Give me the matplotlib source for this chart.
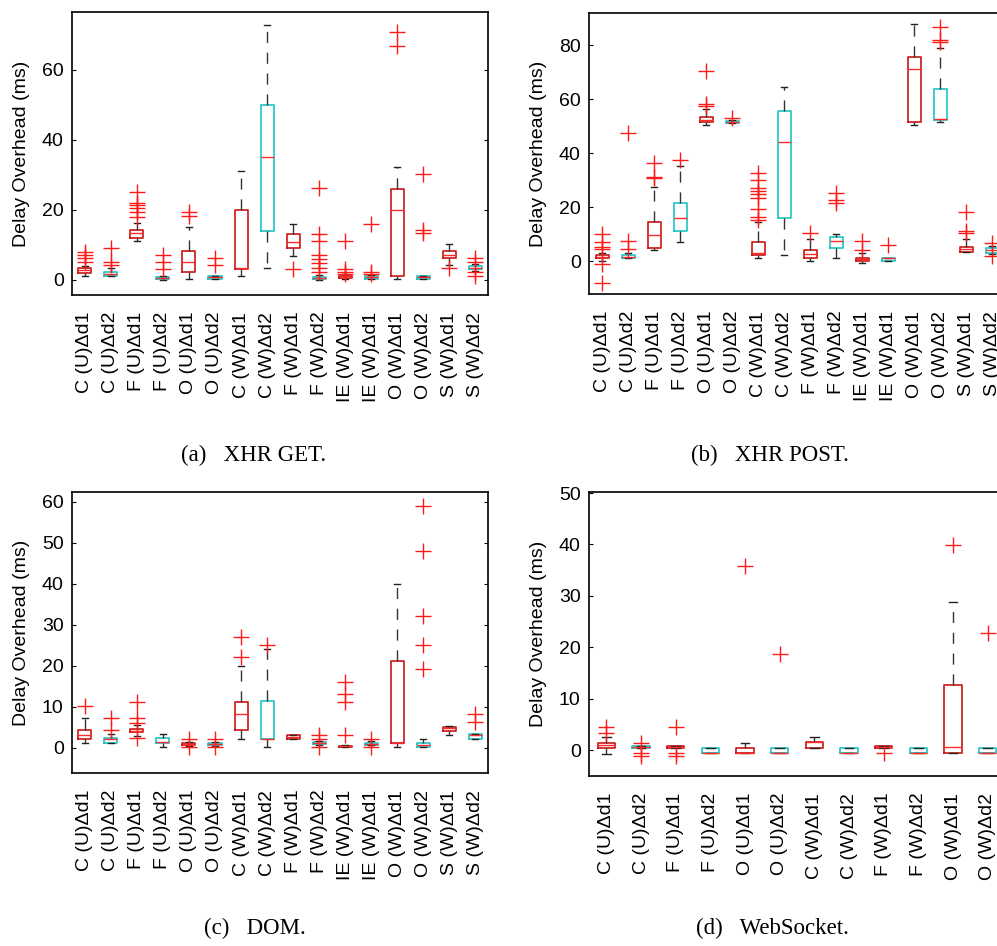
import numpy as np
import matplotlib.pyplot as plt

plt.rcParams['font.family'] = ['Liberation Sans', 'DejaVu Sans']

# 数据：每个面板的箱线图统计量 (q1, 中位数, q3, 须下端, 须上端, 离群点)
labels_a = ['C (U)Δd1', 'C (U)Δd2', 'F (U)Δd1', 'F (U)Δd2', 'O (U)Δd1', 'O (U)Δd2',
            'C (W)Δd1', 'C (W)Δd2', 'F (W)Δd1', 'F (W)Δd2', 'IE (W)Δd1', 'IE (W)Δd1',
            'O (W)Δd1', 'O (W)Δd2', 'S (W)Δd1', 'S (W)Δd2']
q1_a = [2.1, 1.0, 12.1, 0.3, 2.2, 0.2, 3.1, 14.1, 9.1, 0.2, 0.5, 0.4, 1.2, 0.3, 6.2, 3.0]
med_a = [2.9, 1.6, 13.3, 0.5, 5.2, 0.9, 3.3, 35.1, 10.7, 0.5, 0.8, 0.7, 20.1, 0.8, 7.1, 3.5]
q3_a = [3.3, 2.2, 14.2, 0.8, 8.2, 1.2, 20.1, 49.9, 13.1, 0.8, 1.1, 1.0, 26.1, 1.2, 8.2, 4.0]
lo_a = [1.2, 1.0, 11.2, 0.1, 0.3, 0.2, 1.2, 3.3, 6.9, 0.0, 0.3, 0.2, 0.3, 0.3, 4.3, 2.5]
hi_a = [4.1, 3.3, 16.2, 1.2, 15.1, 1.2, 31.0, 72.8, 16.1, 1.5, 1.6, 1.5, 32.2, 1.2, 10.2, 4.5]
fliers_a = [[5.0, 6.2, 7.1, 8.1], [4.3, 5.0, 9.2], [18.1, 19.5, 20.5, 21.4, 22.1, 25.0],
            [3.1, 5.0, 7.0], [18.4, 19.3], [4.2, 6.2], [], [], [3.1],
            [2.2, 3.3, 4.8, 5.9, 7.0, 11.2, 13.0, 26.2], [1.7, 2.4, 3.2, 11.1],
            [1.6, 2.3, 16.1], [66.9, 70.9], [13.3, 14.3, 30.2], [3.3], [1.2, 2.2, 5.0, 6.2]]

labels_b = labels_a
q1_b = [1.1, 1.1, 5.0, 11.2, 51.4, 51.3, 2.1, 16.1, 1.2, 5.0, 0.0, 0.2, 51.4, 52.4, 3.2, 3.0]
med_b = [1.7, 1.4, 9.8, 15.8, 52.2, 51.6, 3.1, 44.0, 2.7, 7.3, 0.6, 1.1, 71.1, 52.7, 4.3, 4.0]
q3_b = [2.4, 2.4, 14.3, 21.4, 53.4, 51.9, 7.2, 55.5, 4.2, 9.1, 1.2, 1.2, 75.6, 63.6, 5.2, 5.0]
lo_b = [0.2, 1.1, 4.1, 7.1, 50.6, 51.0, 1.1, 2.1, 0.2, 1.1, -0.6, 0.2, 50.6, 51.4, 3.2, 2.5]
hi_b = [3.1, 3.1, 27.3, 35.3, 56.4, 52.3, 14.4, 64.5, 8.1, 10.2, 3.0, 1.2, 87.7, 78.8, 8.2, 5.5]
fliers_b = [[-8.0, -1.0, 4.5, 5.2, 7.1, 10.2], [4.3, 7.3, 47.5], [30.7, 31.3, 36.3], [37.3],
            [57.4, 58.3, 70.4], [52.9], [15.4, 16.4, 19.3, 23.2, 24.7, 26.0, 27.0, 30.1, 32.5],
            [], [10.4], [21.4, 22.6, 25.3], [4.2, 7.3], [6.1], [], [81.0, 81.9, 86.8],
            [10.4, 11.2, 18.3], [1.9, 6.8]]

labels_c = labels_a
q1_c = [2.2, 1.3, 3.9, 1.3, 0.7, 0.7, 4.4, 2.3, 2.3, 1.0, 0.3, 0.8, 1.1, 0.2, 4.2, 2.3]
med_c = [3.2, 2.3, 4.2, 1.5, 1.0, 1.0, 8.2, 2.3, 2.7, 1.3, 0.4, 1.0, 1.1, 0.6, 4.8, 3.2]
q3_c = [4.4, 2.4, 4.6, 2.4, 1.2, 1.2, 11.2, 11.4, 3.2, 1.5, 0.5, 1.3, 21.1, 1.3, 5.2, 3.3]
lo_c = [1.1, 1.3, 3.0, 0.3, 0.5, 0.5, 2.2, 0.3, 2.3, 0.8, 0.2, 0.6, 0.2, 0.2, 3.2, 2.3]
hi_c = [7.2, 3.3, 5.5, 3.3, 1.5, 1.5, 20.1, 24.1, 3.2, 1.8, 0.6, 1.6, 40.0, 2.3, 5.4, 3.3]
fliers_c = [[10.2], [4.4, 7.3], [2.5, 6.1, 7.2, 11.2], [], [0.3, 2.1], [0.3, 2.1],
            [22.1, 27.1], [25.2], [], [0.3, 2.3, 3.1], [3.1, 11.2, 13.1, 16.0],
            [0.3, 2.1], [], [19.3, 25.2, 32.1, 48.0, 59.0], [], [6.4, 8.4]]

labels_d = ['C (U)Δd1', 'C (U)Δd2', 'F (U)Δd1', 'F (U)Δd2', 'O (U)Δd1', 'O (U)Δd2',
            'C (W)Δd1', 'C (W)Δd2', 'F (W)Δd1', 'F (W)Δd2', 'O (W)Δd1', 'O (W)Δd2']
q1_d = [0.45, 0.4, 0.5, -0.5, -0.5, -0.5, 0.5, -0.5, 0.5, -0.5, -0.5, -0.5]
med_d = [1.0, 0.6, 0.65, -0.5, -0.5, -0.5, 1.6, -0.5, 0.65, -0.5, 0.6, -0.5]
q3_d = [1.5, 0.8, 0.8, 0.5, 0.5, 0.5, 1.6, 0.5, 0.8, 0.5, 12.7, 0.5]
lo_d = [-0.8, 0.4, 0.5, -0.5, -0.5, -0.5, 0.5, -0.5, 0.5, -0.5, -0.5, -0.5]
hi_d = [2.6, 0.8, 0.8, 0.5, 1.5, 0.5, 2.6, 0.5, 0.8, 0.5, 28.8, 0.5]
fliers_d = [[3.4, 4.5], [-1.2, -0.45, 1.5], [-1.2, -0.6, 4.5], [], [35.8], [18.7],
            [], [], [-0.5], [], [39.9], [22.7]]

red = '#cc1414'
cyan = '#1ec3c3'


def draw(ax, labels, q1, med, q3, lo, hi, fliers, ylim, yticks, caption, cx, cy):
    stats = []
    for i in range(len(labels)):
        stats.append(dict(q1=q1[i], med=med[i], q3=q3[i], whislo=lo[i], whishi=hi[i],
                          fliers=fliers[i], label=labels[i]))
    pos = np.arange(1, len(labels) + 1)
    res = ax.bxp(stats, positions=pos, widths=0.5, capwidths=0.25,
                 boxprops=dict(linewidth=1.2),
                 whiskerprops=dict(color='#333333', linewidth=1.0, linestyle=(0, (8, 7))),
                 capprops=dict(color='#222222', linewidth=1.0),
                 medianprops=dict(color='#ff2a2a', linewidth=1.0),
                 flierprops=dict(marker='+', markeredgecolor='#ff1a1a', markersize=11,
                                 markeredgewidth=1.0, linestyle='none'))
    for i, b in enumerate(res['boxes']):
        b.set_color(red if i % 2 == 0 else cyan)
    ax.set_xlim(0.5, len(labels) + 0.5)
    ax.set_ylim(*ylim)
    ax.set_yticks(yticks)
    ax.set_xticks(pos)
    ax.set_xticklabels(labels, rotation=90, va='top', ha='center', fontsize=14)
    ax.tick_params(axis='x', length=0, pad=12)
    ax.tick_params(axis='y', direction='in', length=3, left=True, right=True,
                   labelsize=14, pad=6)
    for s in ax.spines.values():
        s.set_linewidth(1.2)
    ax.set_ylabel('Delay Overhead (ms)', fontsize=14)
    ax.yaxis.set_label_coords(-0.101, 0.5)
    fig.text(cx, cy, caption, ha='center', va='center', fontsize=16.5,
             family='Liberation Serif')


fig = plt.figure(figsize=(9.97, 9.46), dpi=100)
ax_a = fig.add_axes([0.0722, 0.6882, 0.4173, 0.2992])
ax_b = fig.add_axes([0.5908, 0.6892, 0.4173, 0.2970])
ax_c = fig.add_axes([0.0722, 0.1829, 0.4173, 0.2970])
ax_d = fig.add_axes([0.5908, 0.1797, 0.4173, 0.3002])

draw(ax_a, labels_a, q1_a, med_a, q3_a, lo_a, hi_a, fliers_a, (-4.3, 76.6),
     [0, 20, 40, 60], '(a)   XHR GET.', 254 / 997, 1 - 455 / 946)
draw(ax_b, labels_b, q1_b, med_b, q3_b, lo_b, hi_b, fliers_b, (-12.2, 91.9),
     [0, 20, 40, 60, 80], '(b)   XHR POST.', 770 / 997, 1 - 455 / 946)
draw(ax_c, labels_c, q1_c, med_c, q3_c, lo_c, hi_c, fliers_c, (-6.1, 62.4),
     [0, 10, 20, 30, 40, 50, 60], '(c)   DOM.', 255 / 997, 1 - 928 / 946)
draw(ax_d, labels_d, q1_d, med_d, q3_d, lo_d, hi_d, fliers_d, (-5.0, 50.2),
     [0, 10, 20, 30, 40, 50], '(d)   WebSocket.', 772 / 997, 1 - 928 / 946)

fig.savefig('out.png', dpi=100)
